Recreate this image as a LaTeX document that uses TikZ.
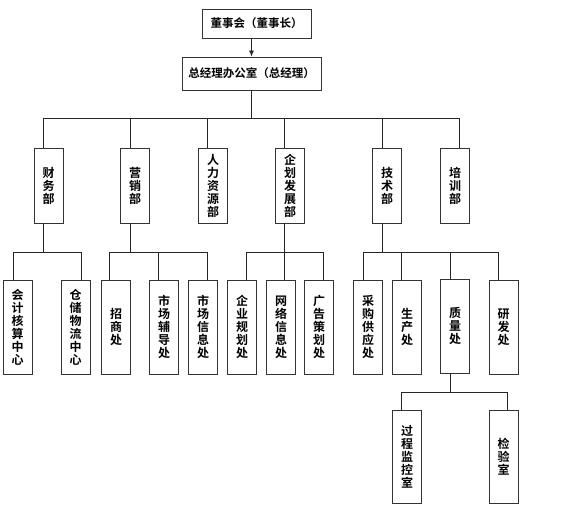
\documentclass[tikz,border=0pt]{standalone}
\usepackage{fontspec}
\newfontfamily\cjk{Noto Sans CJK SC Bold}
\usetikzlibrary{arrows.meta}
\tikzset{
  box/.style={draw=black!80, line width=0.8pt, fill=white, inner sep=0pt, align=center,
              font=\cjk\fontsize{12}{13}\selectfont},
  hbox/.style={box, font=\cjk\fontsize{11.5}{13}\selectfont},
  dept/.style={box, minimum width=29pt, minimum height=75pt},
  sub/.style={box, minimum width=29pt, minimum height=94pt},
  conn/.style={draw=black!85, line width=0.8pt},
}
\begin{document}
\begin{tikzpicture}[x=1pt,y=-1pt]
\useasboundingbox (0,0) rectangle (580,510);
% top
\node[hbox, minimum width=109pt, minimum height=29pt] (dsh) at (256.5,23.5) {董事会（董事长）};
\node[hbox, minimum width=139pt, minimum height=33pt] (zjl) at (251.5,73.5) {总经理办公室（总经理）};
\draw[conn,-{Latex[length=6pt,width=5pt]}] (dsh.south -| zjl.south) -- (zjl.north);
% bus 1
\coordinate (b1a) at (43,118);
\coordinate (b1b) at (130,118);
\coordinate (b1c) at (207,118);
\coordinate (b1d) at (284,118);
\coordinate (b1e) at (382,118);
\coordinate (b1f) at (459,118);
% departments
\node[dept] (cw) at (48.5,185.5) {财\\务\\部};
\node[dept] (yx) at (135,185.5) {营\\销\\部};
\node[dept] (rl) at (213,185.5) {人\\力\\资\\源\\部};
\node[dept] (qh) at (290,185.5) {企\\划\\发\\展\\部};
\node[dept] (js) at (387,185.5) {技\\术\\部};
\node[dept] (px) at (455,185.5) {培\\训\\部};
\draw[conn] (zjl.south) -- (zjl.south |- b1a);
\draw[conn] (b1a) -- (b1f);
\foreach \c/\n in {b1a/cw,b1b/yx,b1c/rl,b1d/qh,b1e/js,b1f/px}
  \draw[conn] (\c) -- (\c |- \n.north);
% sub-level
\node[sub] (kj) at (17.5,327) {会\\计\\核\\算\\中\\心};
\node[sub] (cc) at (75.5,327) {仓\\储\\物\\流\\中\\心};
\node[sub] (zs) at (116,327) {招\\商\\处};
\node[sub] (scfd) at (164,327) {市\\场\\辅\\导\\处};
\node[sub] (scxx) at (203,327) {市\\场\\信\\息\\处};
\node[sub] (qygh) at (242,327) {企\\业\\规\\划\\处};
\node[sub] (wlxx) at (281,327) {网\\络\\信\\息\\处};
\node[sub] (ggch) at (319,327) {广\\告\\策\\划\\处};
\node[sub] (cg) at (368,327) {采\\购\\供\\应\\处};
\node[sub] (sc) at (407,327) {生\\产\\处};
\node[sub] (zl) at (455,326) {质\\量\\处};
\node[sub] (yf) at (503.5,327) {研\\发\\处};
\node[sub, minimum height=93pt] (gc) at (407,456.5) {过\\程\\监\\控\\室};
\node[sub, minimum height=93pt] (jy) at (503.5,456.5) {检\\验\\室};
% finance group
\coordinate (cwd) at (43,252);
\coordinate (cwl) at (13,252);
\coordinate (cwr) at (81,252);
\draw[conn] (b1a |- cw.south) -- (cwd);
\draw[conn] (cwl) -- (cwr);
\draw[conn] (cwl) -- (cwl |- kj.north);
\draw[conn] (cwr) -- (cwr |- cc.north);
% marketing group
\coordinate (yxd) at (130,252);
\coordinate (yxl) at (109,252);
\coordinate (yxm) at (158,252);
\coordinate (yxr) at (207,252);
\draw[conn] (b1b |- yx.south) -- (yxd);
\draw[conn] (yxl) -- (yxr);
\draw[conn] (yxl) -- (yxl |- zs.north);
\draw[conn] (yxm) -- (yxm |- scfd.north);
\draw[conn] (yxr) -- (yxr |- scxx.north);
% planning group
\coordinate (qhl) at (246,252);
\coordinate (qhm) at (284,252);
\coordinate (qhr) at (323,252);
\draw[conn] (b1d |- qh.south) -- (qhm);
\draw[conn] (qhl) -- (qhr);
\draw[conn] (qhl) -- (qhl |- qygh.north);
\draw[conn] (qhm) -- (qhm |- wlxx.north);
\draw[conn] (qhr) -- (qhr |- ggch.north);
% technology group
\coordinate (jsd) at (382,252);
\coordinate (jsa) at (363,252);
\coordinate (jsb) at (401,252);
\coordinate (jsc) at (450,252);
\coordinate (jse) at (498,252);
\draw[conn] (b1e |- js.south) -- (jsd);
\draw[conn] (jsa) -- (jse);
\draw[conn] (jsa) -- (jsa |- cg.north);
\draw[conn] (jsb) -- (jsb |- sc.north);
\draw[conn] (jsc) -- (jsc |- zl.north);
\draw[conn] (jse) -- (jse |- yf.north);
% quality group
\coordinate (zla) at (401,392);
\coordinate (zlm) at (450,392);
\coordinate (zlb) at (507,392);
\draw[conn] (zlm |- zl.south) -- (zlm);
\draw[conn] (zla) -- (zlb);
\draw[conn] (zla) -- (zla |- gc.north);
\draw[conn] (zlb) -- (zlb |- jy.north);
\end{tikzpicture}
\end{document}
